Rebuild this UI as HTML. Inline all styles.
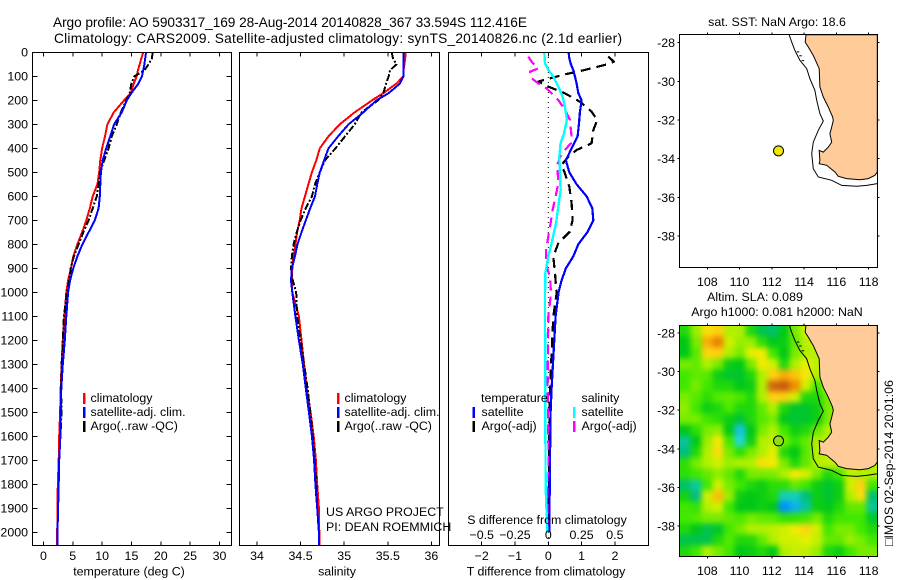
<!DOCTYPE html>
<html>
<head>
<meta charset="utf-8">
<title>Argo profile 5903317_169</title>
<style>
html,body{margin:0;padding:0;background:#fff;}
svg{display:block;}
text{font-family:"Liberation Sans",Arial,sans-serif;font-size:12.4px;fill:#000;}
.ttl{font-size:13.7px;}
.ln{fill:none;shape-rendering:crispEdges;stroke-linejoin:round;}
.ax{fill:none;stroke:#000;stroke-width:1.4;shape-rendering:crispEdges;}
.tk{stroke:#000;stroke-width:1;shape-rendering:crispEdges;}
</style>
</head>
<body>
<svg id="fig" xmlns="http://www.w3.org/2000/svg" width="900" height="580" viewBox="0 0 900 580">
  <defs>
    <clipPath id="c1"><rect x="32.5" y="52.5" width="199" height="493"/></clipPath>
    <clipPath id="c2"><rect x="239.5" y="52.5" width="200" height="493"/></clipPath>
    <clipPath id="c3"><rect x="448.5" y="52.5" width="200" height="493"/></clipPath>
    <clipPath id="cm1"><rect x="679.5" y="34.5" width="198" height="233"/></clipPath>
    <clipPath id="cm2"><rect x="679.5" y="325.5" width="198" height="231"/></clipPath>
    <filter id="soft" x="-10%" y="-10%" width="120%" height="120%" color-interpolation-filters="sRGB"><feGaussianBlur stdDeviation="3"/></filter>
  </defs>

  <text class="ttl" x="53" y="27" textLength="474">Argo profile: AO 5903317_169 28-Aug-2014 20140828_367 33.594S 112.416E</text>
  <text class="ttl" x="54" y="43" textLength="568">Climatology: CARS2009. Satellite-adjusted climatology: synTS_20140826.nc (2.1d earlier)</text>

  <g id="heat-layer" clip-path="url(#cm2)"><g id="heat-cells" filter="url(#soft)"></g></g>
  <g id="lines1" clip-path="url(#c1)"></g>
  <g id="lines2" clip-path="url(#c2)"></g>
  <g id="lines3" clip-path="url(#c3)"></g>
  <g id="map1" clip-path="url(#cm1)"></g>
  <g id="map2" clip-path="url(#cm2)"></g>

  <rect class="ax" x="32.5" y="52.5" width="199" height="493"/>
  <rect class="ax" x="239.5" y="52.5" width="200" height="493"/>
  <rect class="ax" x="448.5" y="52.5" width="200" height="493"/>
  <rect class="ax" x="679.5" y="34.5" width="198" height="233"/>
  <rect class="ax" x="679.5" y="325.5" width="198" height="231"/>
  <g id="ticks"></g>

  <text x="129" y="575.5" text-anchor="middle">temperature (deg C)</text>
  <text x="337" y="575.5" text-anchor="middle">salinity</text>
  <text x="546" y="575.5" text-anchor="middle">T difference from climatology</text>
  <text x="547" y="524" text-anchor="middle">S difference from climatology</text>

  <g>
    <rect x="83" y="393" width="2.5" height="11" fill="#f00"/><text x="90.5" y="402">climatology</text>
    <rect x="83" y="407" width="2.5" height="11" fill="#00f"/><text x="90.5" y="416">satellite-adj. clim.</text>
    <rect x="83" y="421" width="2.5" height="11" fill="#000"/><text x="90.5" y="430">Argo(..raw -QC)</text>
  </g>
  <g>
    <rect x="337" y="393" width="2.5" height="11" fill="#f00"/><text x="344.5" y="402">climatology</text>
    <rect x="337" y="407" width="2.5" height="11" fill="#00f"/><text x="344.5" y="416">satellite-adj. clim.</text>
    <rect x="337" y="421" width="2.5" height="11" fill="#000"/><text x="344.5" y="430">Argo(..raw -QC)</text>
  </g>
  <g>
    <text x="481" y="402">temperature</text>
    <rect x="472.5" y="407" width="2.5" height="11" fill="#00f"/><text x="481.5" y="416">satellite</text>
    <rect x="472.5" y="421" width="2.5" height="11" fill="#000"/><text x="481.5" y="430">Argo(-adj)</text>
    <text x="581.5" y="402">salinity</text>
    <rect x="573" y="407" width="2.5" height="11" fill="#0ff"/><text x="581.5" y="416">satellite</text>
    <rect x="573" y="421" width="2.5" height="11" fill="#f0f"/><text x="581.5" y="430">Argo(-adj)</text>
  </g>
  <text x="326" y="516">US ARGO PROJECT</text>
  <text x="326" y="531">PI: DEAN ROEMMICH</text>

  <text x="777" y="26" text-anchor="middle">sat. SST: NaN Argo: 18.6</text>
  <text x="755" y="301" text-anchor="middle">Altim. SLA: 0.089</text>
  <text x="777" y="316" text-anchor="middle">Argo h1000: 0.081 h2000: NaN</text>
  <text transform="translate(893,546) rotate(-90)" x="0" y="0">□IMOS 02-Sep-2014 20:01:06</text>
</svg>

<script>
// ---------- profile data ----------
var depths = [0,25,50,75,100,130,170,200,250,300,350,400,450,500,550,600,650,700,750,800,850,900,950,1000,1100,1200,1300,1400,1500,1600,1700,1800,1900,2000,2055];
var tempClim = [17.0,16.7,16.4,16.1,15.9,15.4,14.9,13.75,12.0,10.9,10.5,10.0,9.7,9.5,9.2,8.4,7.9,7.3,6.6,5.8,5.1,4.7,4.2,3.9,3.6,3.3,3.1,2.95,2.85,2.7,2.6,2.45,2.4,2.35,2.35];
var tempSat = [17.5,17.35,17.2,17.0,16.8,16.2,15.0,14.2,13.35,12.05,11.4,10.7,10.1,9.8,9.7,9.6,9.4,8.75,7.7,6.65,5.8,5.1,4.55,4.2,3.9,3.65,3.3,3.05,2.95,2.9,2.7,2.6,2.5,2.4,2.4];
var tempArgo = [18.6,18.5,17.9,17.2,15.5,15.0,14.7,14.1,13.2,12.5,11.65,11.1,10.35,9.65,9.4,9.1,8.4,7.7,6.8,6.0,5.2,4.65,4.4,4.0,3.5,3.3,3.1,3.0,3.1,2.9,2.7,2.6,2.5,2.4,2.4];
var salClim = [35.705,35.70,35.69,35.68,35.68,35.6,35.45,35.32,35.12,34.95,34.82,34.72,34.68,34.63,34.59,34.55,34.51,34.49,34.46,34.44,34.42,34.405,34.40,34.405,34.48,34.51,34.54,34.57,34.615,34.65,34.675,34.69,34.71,34.715,34.715];
var salSat = [35.68,35.68,35.68,35.68,35.68,35.64,35.51,35.37,35.22,35.05,34.93,34.82,34.77,34.72,34.69,34.665,34.61,34.56,34.51,34.465,34.435,34.40,34.39,34.405,34.44,34.48,34.525,34.56,34.595,34.63,34.655,34.67,34.69,34.71,34.71];
var salArgo = [35.545,35.56,35.60,35.525,35.51,35.48,35.45,35.39,35.2,35.12,35.01,34.9,34.78,34.72,34.665,34.63,34.56,34.5,34.455,34.42,34.40,34.39,34.41,34.45,34.46,34.5,34.54,34.58,34.61,34.64,34.66,34.68,34.69,34.71,34.71];

var diffTempSatDepths = [0,25,50,75,100,130,170,200,250,300,350,400,450,500,550,600,650,700,750,800,850,900,950,1000,1100,1400,1500,1700,2000];
var diffTempSat = [0.61,0.63,0.68,0.75,0.8,0.85,0.9,1.0,0.95,0.92,0.88,0.7,0.53,0.63,0.85,1.15,1.32,1.35,1.17,0.9,0.75,0.53,0.4,0.31,0.22,0.1,0.07,0.05,0.03];
var diffTempArgoDepths = [18,39,49,75,92,113,122,143,171,206,247,282,324,379,407,435,469,504,560,629,699,747,796,851,921,1004,1101,1400,1700,2000];
var diffTempArgo = [1.8,1.97,1.8,1.05,0.5,-0.07,-0.3,0,0.5,0.95,1.3,1.47,1.35,1.3,0.85,0.6,0.4,0.5,0.63,0.7,0.73,0.65,0.3,0.15,0.2,0.25,0.15,0.05,0.02,0.01];
var diffSalArgoDepths = [18,39,67,81,101,115,129,150,171,199,233,282,352,379,407,435,469,546,601,657,713,768,824,893,935,1004,1101,1400,1700,2000];
var diffSalArgo = [-0.15,-0.125,-0.075,-0.1375,-0.1375,-0.11,-0.075,-0.0125,0.025,0.075,0.1175,0.1625,0.175,0.17,0.125,0.09,0.0675,0.075,0.055,0.0325,0.0175,0,-0.0175,-0.0125,0.0125,0.02,0,-0.005,0.002,-0.004];
var diffSalSatDepths = [0,46,74,101,143,185,226,282,338,379,435,504,574,643,713,782,851,921,1004,1101,1800,2000];
var diffSalSat = [-0.03,-0.025,0,0.0375,0.075,0.1075,0.125,0.14,0.1175,0.0925,0.0825,0.0875,0.0925,0.075,0.0575,0.03,0,-0.0225,-0.025,-0.025,-0.02,-0.0075];

// ---------- tick labels ----------
var depthTicks = [0,100,200,300,400,500,600,700,800,900,1000,1100,1200,1300,1400,1500,1600,1700,1800,1900,2000];
var tempTicks = [0,5,10,15,20,25,30];
var salTicks = [34,34.5,35,35.5,36];
var diffTTicks = [-2,-1,0,1,2];
var diffSTicks = [-0.5,-0.25,0,0.25,0.5];
var lonTicks = [108,110,112,114,116,118];
var latTicks = [-28,-30,-32,-34,-36,-38];

// ---------- map data ----------
var landLon = [114.12,114.07,114.26,114.57,114.94,114.98,115.19,115.50,115.77,115.81,115.71,115.60,115.71,115.50,115.19,114.94,114.98,114.94,115.40,115.91,116.12,116.64,117.46,117.98,118.39,118.54,118.54];
var landLat = [-27.59,-27.97,-28.22,-28.66,-29.34,-30.29,-30.81,-31.33,-31.84,-32.02,-32.36,-32.71,-33.14,-33.40,-33.66,-33.57,-34.09,-34.26,-34.34,-34.69,-34.91,-35.03,-35.09,-35.03,-34.86,-34.69,-27.59];
var contourLon = [113.08,113.23,113.43,113.74,114.16,114.36,114.67,114.78,114.98,115.19,114.88,114.57,114.47,114.57,114.88,115.71,116.33,117.26,117.88,118.54];
var contourLat = [-27.59,-27.97,-28.40,-28.91,-29.34,-29.86,-30.47,-30.98,-31.67,-32.05,-32.53,-33.14,-33.74,-34.52,-34.95,-35.12,-35.38,-35.43,-35.38,-35.29];
var islandLon = [113.55,113.7,113.85];
var islandLat = [-28.45,-28.65,-28.9];
var argoLon = [112.416];
var argoLat = [-33.594];
var heatRows = [
 [-0.5,0.8,2.5,3.0,1.0,1.0,-0.5,-1.5,-1.8,-1.0,0.5,1.5,1,1,1,1,1,1],
 [-1.0,0.5,3.5,4.2,1.5,0.8,0.8,-0.3,-1.0,-0.8,0.3,1.2,1.5,1,1,1,1,1],
 [-1.0,0.2,2.8,3.0,1.0,0.5,1.8,2.2,0.0,-1.0,0.5,1.0,1.2,1,1,1,1,1],
 [0.5,0.3,1.0,0.5,-0.8,-1.0,0.5,2.2,1.5,-0.5,1.0,1.8,1.2,1,1,1,1,1],
 [0.0,0.3,0.2,-0.8,-1.2,-1.2,-0.5,1.0,3.0,3.5,3.2,2.2,1.0,1,1,1,1,1],
 [0.0,0.5,0.0,-0.5,-0.5,-1.0,-0.8,1.0,4.8,5.0,4.0,1.5,0.0,1,1,1,1,1],
 [0.5,0.2,-0.3,0.2,0.3,0.1,-0.5,1.0,3.0,3.0,1.5,-0.5,-0.5,0.5,1,1,1,1],
 [0.7,0.0,-0.8,-0.5,0.1,-0.5,-0.5,0.3,1.0,-0.5,-1.2,-1.2,-0.8,0.5,1,1,1,1],
 [0.5,0.5,0.0,-0.3,-0.8,-1.3,-0.5,0.2,0.5,-1.0,-1.3,-1.2,-0.8,0.5,1,1,1,1],
 [-1.0,-0.3,0.5,0.7,-1.0,-3.0,-1.0,0.5,1.0,0.0,-0.8,-0.5,0.3,1.0,1,1,1,1],
 [-2.2,-1.0,0.8,2.2,0.0,-2.8,-0.8,1.0,1.2,0.5,-0.2,0.3,1.0,1,1,1,1,1],
 [-2.0,-0.5,1.0,2.6,0.5,-0.3,0.5,1.0,1.8,-0.5,-1.0,0.2,1.0,1.3,1,1,1,1],
 [-0.3,0.5,1.0,1.5,0.8,1.0,1.0,2.5,2.2,0.5,-0.5,0.3,1.0,1.3,1.3,1,1,1],
 [-0.3,0.0,0.3,0.7,0.3,-0.5,0.5,0.5,0.5,1.0,2.2,1.5,0.5,-0.5,0.0,1.3,1,1],
 [-1.8,-2.3,0.0,1.5,0.5,0.0,-0.5,-0.8,-0.3,-0.3,0.3,0.0,-0.8,-1.2,-0.8,1.5,3.0,0.0],
 [-0.7,-2.0,1.5,3.3,0.8,-0.8,-1.0,-0.8,-0.5,-2.5,-2.5,-2.0,-0.8,-1.3,-0.8,1.0,2.5,-1.8],
 [0.0,-0.2,1.0,1.5,0.0,-1.0,-1.0,-0.8,-1.0,-3.6,-3.2,-2.2,-0.8,-1.0,-0.5,0.3,0.3,-2.2],
 [0.0,0.2,0.5,0.5,0.3,0.1,0.5,0.3,0.2,-0.2,-0.2,0.0,0.5,-0.5,0.0,0.0,0.0,-1.2],
 [-0.5,-1.0,-1.5,-1.2,0.0,0.5,1.0,1.0,1.2,1.5,2.2,2.8,1.5,0.0,0.5,0.5,0.0,-0.5],
 [-1.5,-1.5,-1.5,-0.5,0.2,-0.5,-0.5,0.3,1.0,1.5,1.5,1.8,1.3,0.3,0.3,0.8,0.5,0.0],
 [-0.5,0.0,1.0,0.5,0.0,-1.0,-0.8,-0.5,-1.0,1.0,1.3,1.2,0.8,-0.5,-0.8,0.0,0.5,0.5]
];

// ---------- axis functions ----------
function yDepth(d){ return 52.3 + d*0.24; }
function xTemp(t){ return 43.4 + t*5.87; }
function xSal(s){ return 257 + (s-34)*87.2; }
function xDiffT(t){ return 548.3 + t*33.3; }
function xDiffS(s){ return 548.3 + s*133.2; }
function xLon(l){ return 707.3 + (l-108)*16.13; }
function yLat1(l){ return 42.7 + (-28-l)*19.33; }
function yLat2(l){ return 332.9 + (-28-l)*19.31; }

var NS = 'http://www.w3.org/2000/svg';
function mk(parent, type){
  var el = document.createElementNS(NS, type);
  parent.appendChild(el);
  return el;
}
function profile(parent, name, xs, ds, xf, color, width, dash){
  var pts = [];
  for (var i = 0; i < xs.length; i++) pts.push(xf(xs[i]).toFixed(1) + ',' + yDepth(ds[i]).toFixed(1));
  var el = mk(parent, 'polyline');
  
  
  el.setAttribute('class', 'ln');
  el.setAttribute('points', pts.join(' '));
  el.setAttribute('stroke', color);
  el.setAttribute('stroke-width', width);
  if (dash) el.setAttribute('stroke-dasharray', dash);
}

// ---------- profile panels ----------
var g1 = document.getElementById('lines1');
var g2 = document.getElementById('lines2');
var g3 = document.getElementById('lines3');
profile(g1, 'temperature-climatology-line', tempClim, depths, xTemp, '#f00', 2);
profile(g1, 'temperature-argo-line', tempArgo, depths, xTemp, '#000', 2, '7 2 2 2');
profile(g1, 'temperature-satellite-line', tempSat, depths, xTemp, '#00f', 2);
profile(g2, 'salinity-climatology-line', salClim, depths, xSal, '#f00', 2);
profile(g2, 'salinity-argo-line', salArgo, depths, xSal, '#000', 2, '7 2 2 2');
profile(g2, 'salinity-satellite-line', salSat, depths, xSal, '#00f', 2);

var zero = mk(g3, 'line');


zero.setAttribute('x1', xDiffT(0));
zero.setAttribute('x2', xDiffT(0));
zero.setAttribute('y1', 52);
zero.setAttribute('y2', 546);
zero.setAttribute('stroke', '#000');
zero.setAttribute('stroke-dasharray', '1 4');
profile(g3, 'difference-temperature-argo-line', diffTempArgo, diffTempArgoDepths, xDiffT, '#000', 2.2, '10 6');
profile(g3, 'difference-salinity-argo-line', diffSalArgo, diffSalArgoDepths, xDiffS, '#f0f', 2.2, '10 6');
profile(g3, 'difference-temperature-satellite-line', diffTempSat, diffTempSatDepths, xDiffT, '#00f', 2.2);
profile(g3, 'difference-salinity-satellite-line', diffSalSat, diffSalSatDepths, xDiffS, '#0ff', 2.4);

// ---------- heatmap ----------
var heatStops = [[-3.5,0,144,255],[-2.8,32,216,216],[-2,0,190,130],[-1,0,200,24],[0,64,232,0],[1,176,240,0],[2,240,240,0],[3,255,208,16],[4,240,140,0],[5,200,92,16]];
function heatColor(v){
  for (var i = 1; i < heatStops.length; i++){
    if (v <= heatStops[i][0]){
      var a = heatStops[i-1], b = heatStops[i];
      var f = Math.max(0, (v-a[0])/(b[0]-a[0]));
      return 'rgb(' + Math.round(a[1]+(b[1]-a[1])*f) + ',' + Math.round(a[2]+(b[2]-a[2])*f) + ',' + Math.round(a[3]+(b[3]-a[3])*f) + ')';
    }
  }
  return 'rgb(200,92,16)';
}
var hc = document.getElementById('heat-cells');
var nRows = heatRows.length, nCols = heatRows[0].length;
var cw = 198/nCols, ch = 231/nRows;
for (var r = 0; r < nRows; r++){
  for (var c = 0; c < nCols; c++){
    var cell = mk(hc, 'rect');
    
    
    var bl = c === 0 ? 20 : 0, br = c === nCols-1 ? 20 : 0, bt = r === 0 ? 20 : 0, bb = r === nRows-1 ? 20 : 0;
    cell.setAttribute('x', 679.5 + c*cw - bl);
    cell.setAttribute('y', 325.5 + r*ch - bt);
    cell.setAttribute('width', cw + 0.5 + bl + br);
    cell.setAttribute('height', ch + 0.5 + bt + bb);
    cell.setAttribute('fill', heatColor(heatRows[r][c]));
  }
}

// ---------- maps ----------
function path(lons, lats, yf){
  var p = [];
  for (var i = 0; i < lons.length; i++) p.push(xLon(lons[i]).toFixed(1) + ',' + yf(lats[i]).toFixed(1));
  return p.join(' ');
}
function drawMap(gid, yf, fillMarker, suffix){
  var g = document.getElementById(gid);
  var land = mk(g, 'polygon');
  
  
  land.setAttribute('points', path(landLon, landLat, yf));
  land.setAttribute('fill', '#ffcc99');
  land.setAttribute('stroke', '#000');
  land.setAttribute('stroke-width', '1');
  var cont = mk(g, 'polyline');
  
  
  cont.setAttribute('points', path(contourLon, contourLat, yf));
  cont.setAttribute('fill', 'none');
  cont.setAttribute('stroke', '#000');
  cont.setAttribute('stroke-width', '1');
  for (var i = 0; i < islandLon.length; i++){
    var isl = mk(g, 'rect');
    
    
    isl.setAttribute('x', xLon(islandLon[i]));
    isl.setAttribute('y', yf(islandLat[i]));
    isl.setAttribute('width', 2.5);
    isl.setAttribute('height', 1);
    isl.setAttribute('fill', '#000');
  }
  var pt = mk(g, 'circle');
  
  
  pt.setAttribute('cx', xLon(argoLon[0]));
  pt.setAttribute('cy', yf(argoLat[0]));
  pt.setAttribute('r', 5);
  pt.setAttribute('fill', fillMarker);
  pt.setAttribute('stroke', '#000');
  pt.setAttribute('stroke-width', '1');
}
drawMap('map1', yLat1, '#f0e800', 'sst');
drawMap('map2', yLat2, '#90e010', 'sla');

// ---------- ticks and labels ----------
var tg = document.getElementById('ticks');
function tick(x1, y1, x2, y2){
  var t = mk(tg, 'line');
  
  
  t.setAttribute('class', 'tk');
  t.setAttribute('x1', x1);
  t.setAttribute('y1', y1);
  t.setAttribute('x2', x2);
  t.setAttribute('y2', y2);
}
function label(x, y, s, anchor){
  var t = mk(tg, 'text');
  
  
  t.setAttribute('x', x);
  t.setAttribute('y', y);
  t.setAttribute('text-anchor', anchor);
  t.textContent = s;
}
depthTicks.forEach(function(d){
  var y = yDepth(d);
  tick(32.5, y, 37.5, y);
  tick(226.5, y, 231.5, y);
  label(28, y + 4, String(d), 'end');
});
tempTicks.forEach(function(v){
  var x = xTemp(v);
  tick(x, 52.5, x, 56.5);
  tick(x, 541.5, x, 545.5);
  label(x, 560, String(v), 'middle');
});
salTicks.forEach(function(v){
  var x = xSal(v);
  tick(x, 52.5, x, 56.5);
  tick(x, 541.5, x, 545.5);
  label(x, 560, String(v), 'middle');
});
diffTTicks.forEach(function(v){
  var x = xDiffT(v);
  tick(x, 52.5, x, 56.5);
  tick(x, 541.5, x, 545.5);
  label(x, 560, v < 0 ? '\u2212' + Math.abs(v) : String(v), 'middle');
});
diffSTicks.forEach(function(v){
  label(xDiffS(v), 539, v < 0 ? '\u2212' + Math.abs(v) : String(v), 'middle');
});
lonTicks.forEach(function(v){
  var x = xLon(v);
  tick(x, 32.5, x, 34.5);
  tick(x, 267.5, x, 269.5);
  tick(x, 323.5, x, 325.5);
  tick(x, 556.5, x, 558.5);
  label(x, 286, String(v), 'middle');
  label(x, 575, String(v), 'middle');
});
latTicks.forEach(function(v){
  var y1 = yLat1(v), y2 = yLat2(v);
  tick(677.5, y1, 679.5, y1);
  tick(877.5, y1, 879.5, y1);
  tick(677.5, y2, 679.5, y2);
  tick(877.5, y2, 879.5, y2);
  label(675, y1 + 4.5, '-' + Math.abs(v), 'end');
  label(675, y2 + 4.5, '-' + Math.abs(v), 'end');
});
</script>
</body>
</html>
